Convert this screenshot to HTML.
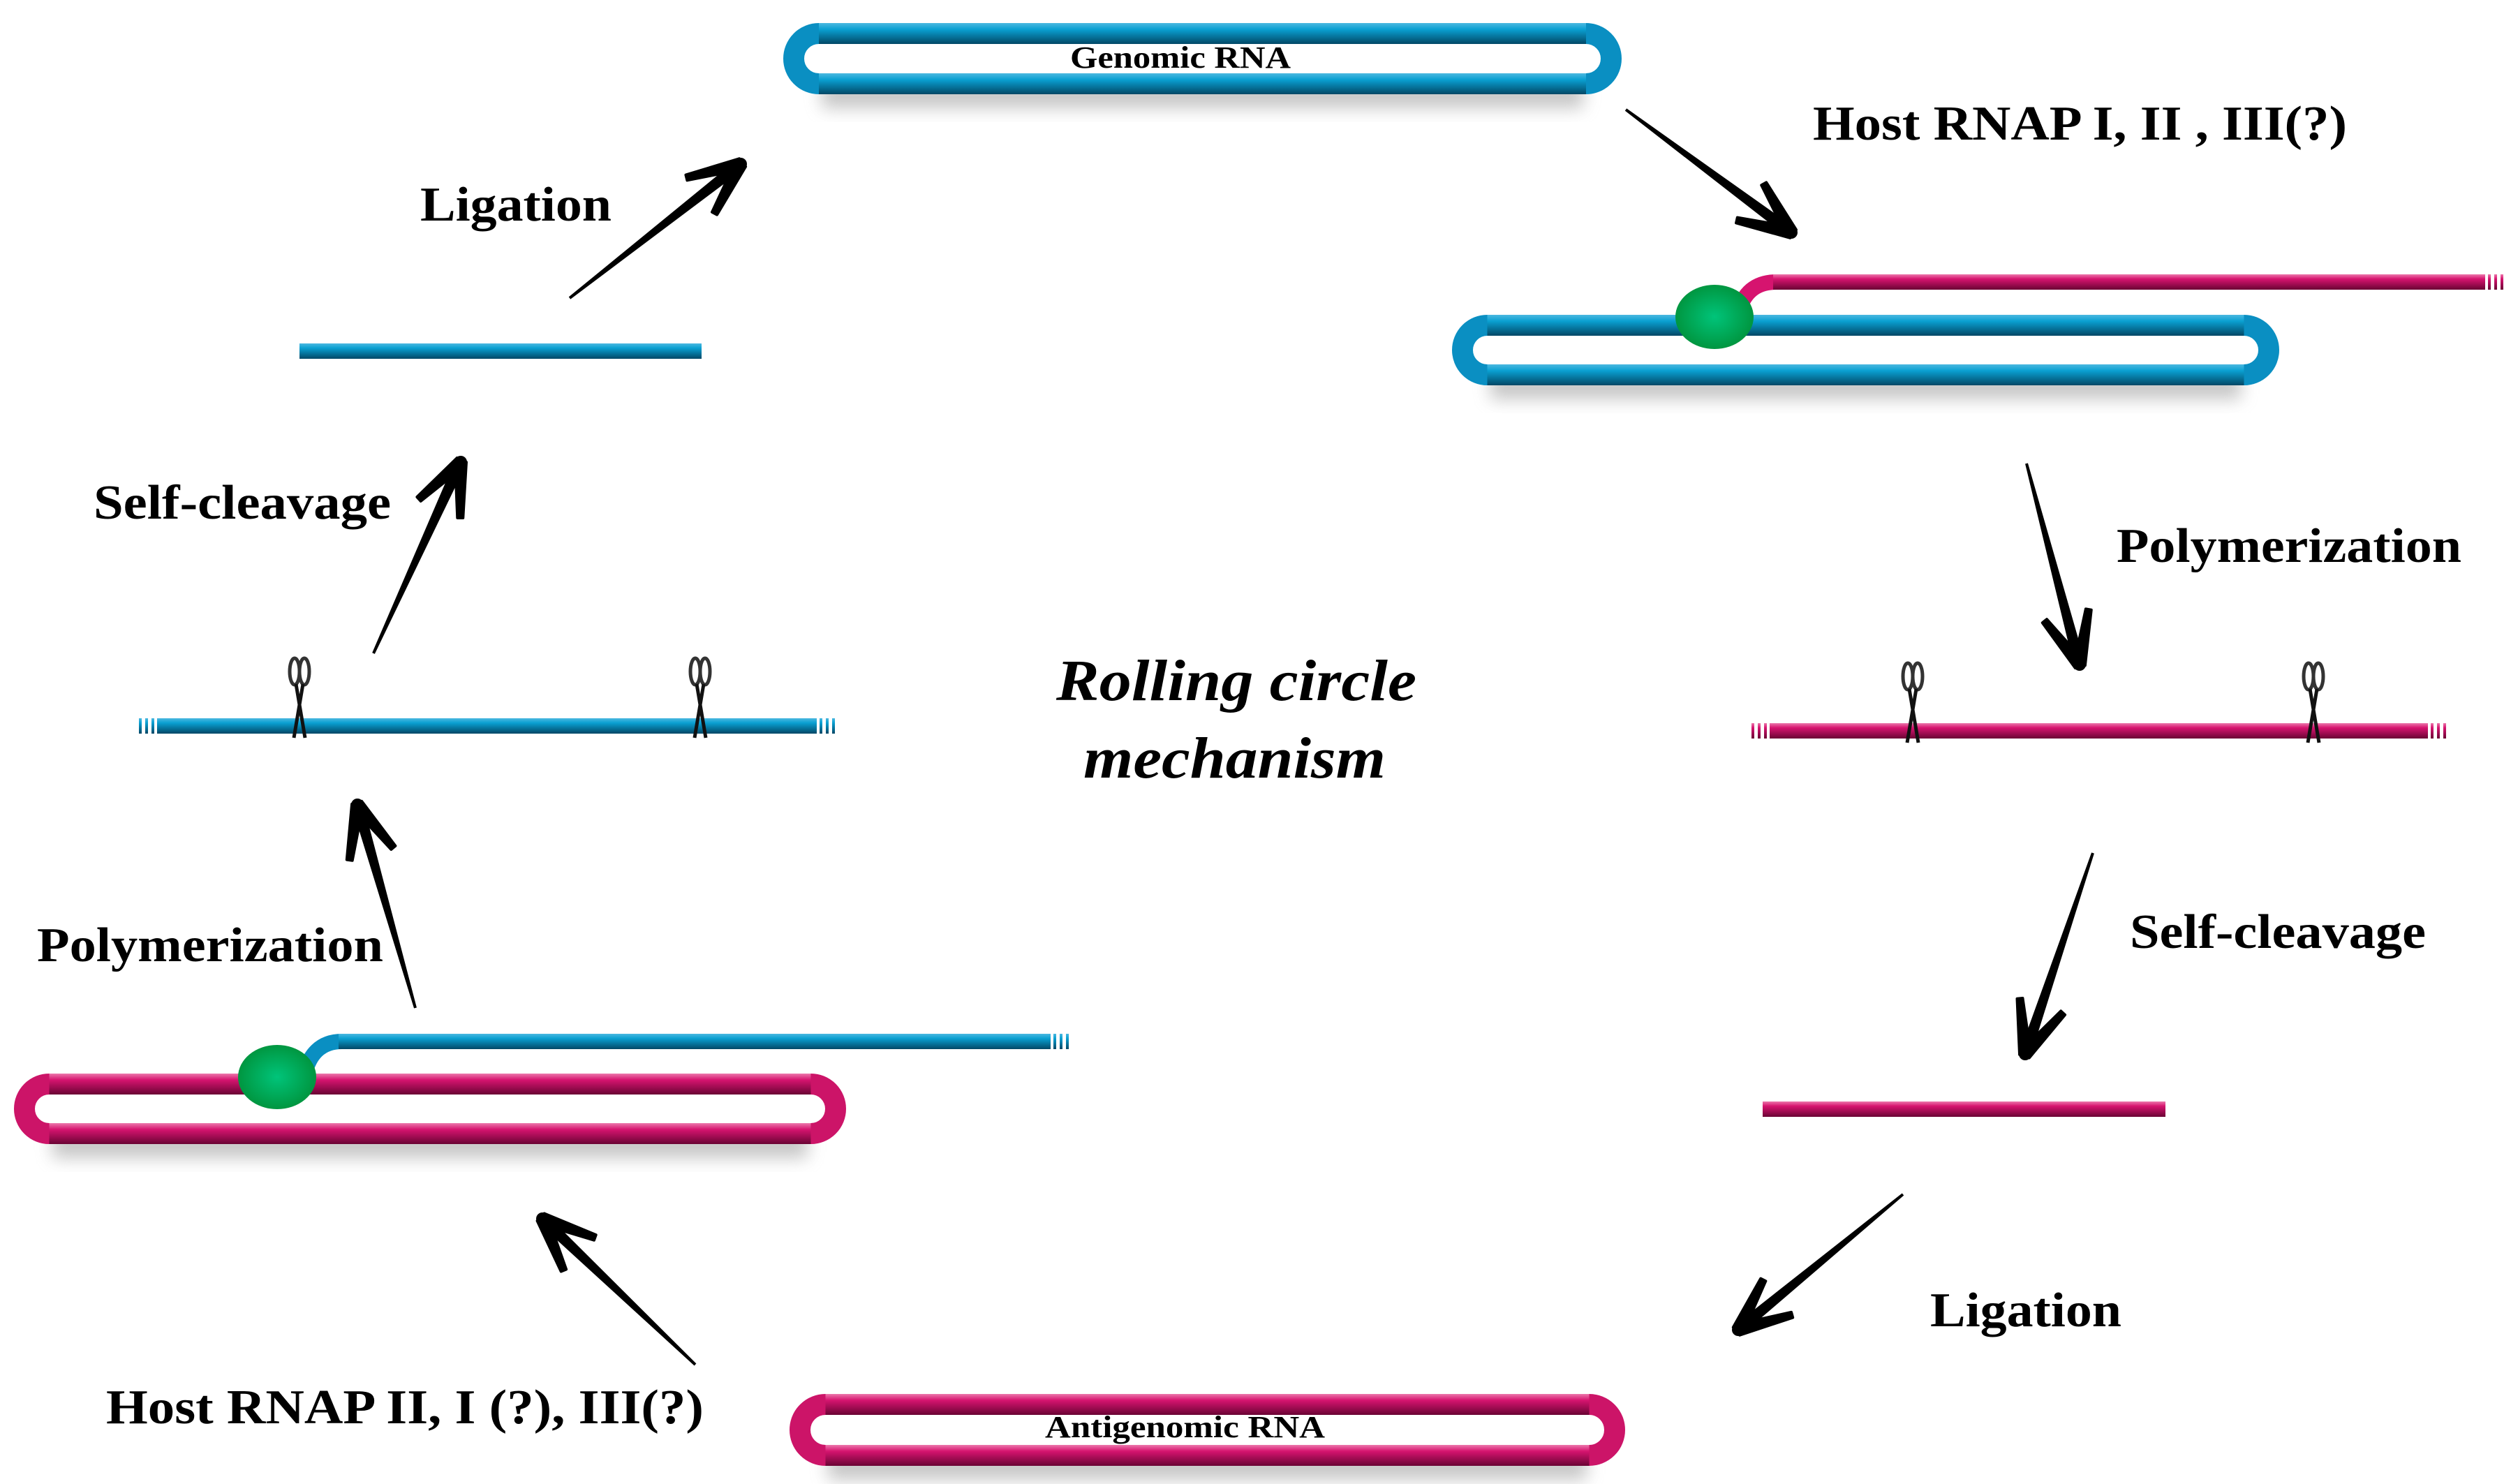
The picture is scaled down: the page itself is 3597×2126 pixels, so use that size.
<!DOCTYPE html>
<html><head><meta charset="utf-8"><style>
html,body{margin:0;padding:0;background:#fff}
svg{display:block}
text{font-family:"Liberation Serif",serif;font-weight:bold;fill:#000}
</style></head><body>
<svg id="s" xmlns="http://www.w3.org/2000/svg" width="3597" height="2126" viewBox="0 0 3597 2126">
<defs>
<linearGradient id="bl" x1="0" y1="0" x2="0" y2="1"><stop offset="0" stop-color="#4cb8e0"/><stop offset="0.3" stop-color="#0aa0d2"/><stop offset="1" stop-color="#024866"/></linearGradient>
<linearGradient id="pk" x1="0" y1="0" x2="0" y2="1"><stop offset="0" stop-color="#ec78ac"/><stop offset="0.3" stop-color="#d6146f"/><stop offset="1" stop-color="#6a0434"/></linearGradient>
<radialGradient id="gr"><stop offset="0" stop-color="#00c47a"/><stop offset="1" stop-color="#009640"/></radialGradient>
<filter id="sh" x="-10%" y="-50%" width="120%" height="200%"><feGaussianBlur stdDeviation="12"/></filter>
</defs>
<g id="g"></g>
<text x="1533" y="97" font-size="44" textLength="316" lengthAdjust="spacingAndGlyphs">Genomic RNA</text>
<text x="1497" y="2059" font-size="44" textLength="401" lengthAdjust="spacingAndGlyphs">Antigenomic RNA</text>
<text x="2597" y="200" font-size="70" textLength="765" lengthAdjust="spacingAndGlyphs">Host RNAP I, II , III(?)</text>
<text x="602" y="316" font-size="70" textLength="274" lengthAdjust="spacingAndGlyphs">Ligation</text>
<text x="134" y="743" font-size="70" textLength="426" lengthAdjust="spacingAndGlyphs">Self-cleavage</text>
<text x="3032" y="805" font-size="70" textLength="494" lengthAdjust="spacingAndGlyphs">Polymerization</text>
<text x="1513" y="1003" font-size="84" font-style="italic" textLength="516" lengthAdjust="spacingAndGlyphs">Rolling circle</text>
<text x="1552" y="1114" font-size="84" font-style="italic" textLength="433" lengthAdjust="spacingAndGlyphs">mechanism</text>
<text x="3051" y="1358" font-size="70" textLength="424" lengthAdjust="spacingAndGlyphs">Self-cleavage</text>
<text x="53" y="1377" font-size="70" textLength="496" lengthAdjust="spacingAndGlyphs">Polymerization</text>
<text x="2765" y="1900" font-size="70" textLength="274" lengthAdjust="spacingAndGlyphs">Ligation</text>
<text x="152" y="2039" font-size="70" textLength="856" lengthAdjust="spacingAndGlyphs">Host RNAP II, I (?), III(?)</text>
</svg>
<script>
var g=document.getElementById('g'),NS='http://www.w3.org/2000/svg';
function el(t,a){var e=document.createElementNS(NS,t);for(var k in a)e.setAttribute(k,a[k]);g.appendChild(e);return e;}
function ring(x1,y1,x2,y2,c){
 var h=y2-y1;
 el('rect',{x:x1+40,y:y2-5,width:x2-x1-80,height:40,fill:'#999',opacity:0.55,filter:'url(#sh)'});
 var p='M'+(x1+h/2)+','+y1+'H'+(x2-h/2)+'A'+h/2+','+h/2+' 0 0 1 '+(x2-h/2)+','+y2+'H'+(x1+h/2)+'A'+h/2+','+h/2+' 0 0 1 '+(x1+h/2)+','+y1+'Z';
 el('path',{d:p,fill:'#fff',stroke:c==='b'?'#0a8fc2':'#cc1468','stroke-width':30});
 el('rect',{x:x1+h/2,y:y1-15,width:x2-x1-h,height:30,fill:'url(#'+(c==='b'?'bl':'pk')+')'});
 el('rect',{x:x1+h/2,y:y2-15,width:x2-x1-h,height:30,fill:'url(#'+(c==='b'?'bl':'pk')+')'});
}
function strand(x1,x2,y,c,tl,tr){
 var f='url(#'+(c==='b'?'bl':'pk')+')';
 el('rect',{x:x1,y:y-11,width:x2-x1,height:22,fill:f});
 for(var i=1;i<=3;i++){
  if(tr)el('rect',{x:x2+i*9-5,y:y-11,width:4,height:22,fill:f});
  if(tl)el('rect',{x:x1-i*9+1,y:y-11,width:4,height:22,fill:f});
 }
}
function sc(x,y){
 el('ellipse',{cx:x-7,cy:y-78,rx:7,ry:19,fill:'none',stroke:'#333','stroke-width':5});
 el('ellipse',{cx:x+7,cy:y-78,rx:7,ry:19,fill:'none',stroke:'#333','stroke-width':5});
 el('path',{d:'M'+(x-5)+','+(y-60)+'L'+(x+8)+','+(y+17)+'M'+(x+5)+','+(y-60)+'L'+(x-8)+','+(y+17),stroke:'#111','stroke-width':5,fill:'none'});
}
function arrow(x1,y1,x2,y2){
 var dx=x2-x1,dy=y2-y1,L=Math.hypot(dx,dy),ux=dx/L,uy=dy/L,nx=-uy,ny=ux;
 var bx=x2-ux*20,by=y2-uy*20;
 el('polygon',{points:[x1+nx*2,y1+ny*2,bx+nx*8,by+ny*8,bx-nx*8,by-ny*8,x1-nx*2,y1-ny*2].join(','),fill:'#000'});
 var a=24*Math.PI/180,hl=80;
 [a,-a].forEach(function(t){
  var c=Math.cos(t),s=Math.sin(t);
  var vx=-(ux*c-uy*s),vy=-(ux*s+uy*c);
  var ex=x2+vx*hl,ey=y2+vy*hl,qx=-vy,qy=vx;
  el('polygon',{points:[x2+qx*8,y2+qy*8,ex+qx*4,ey+qy*4,ex-qx*4,ey-qy*4,x2-qx*8,y2-qy*8].join(','),fill:'#000','stroke-linejoin':'round',stroke:'#000','stroke-width':4});
 });
 el('circle',{cx:x2,cy:y2,r:9,fill:'#000'});
}
ring(1137,48,2308,120,'b');
ring(1146,2012,2313,2085,'p');
ring(2095,466,3250,537,'b');
ring(35,1553,1197,1624,'p');
el('path',{d:'M2490,450 Q2500,404 2545,404',stroke:'#d6146f','stroke-width':22,fill:'none'});
strand(2540,3560,404,'p',false,true);
el('ellipse',{cx:2456,cy:454,rx:56,ry:46,fill:'url(#gr)'});
el('path',{d:'M435,1545 Q445,1492 490,1492',stroke:'#0a8fc2','stroke-width':22,fill:'none'});
strand(485,1505,1492,'b',false,true);
el('ellipse',{cx:397,cy:1543,rx:56,ry:46,fill:'url(#gr)'});
strand(429,1005,503,'b',false,false);
strand(2525,3102,1589,'p',false,false);
strand(225,1170,1040,'b',true,true);sc(429,1040);sc(1003,1040);
strand(2535,3478,1047,'p',true,true);sc(2740,1047);sc(3314,1047);
arrow(816,427,1061,235);
arrow(2329,157,2566,333);
arrow(2903,664,2979,952);
arrow(2998,1222,2901,1510);
arrow(2726,1711,2490,1905);
arrow(996,1955,777,1746);
arrow(595,1444,512,1153);
arrow(535,936,660,662);
</script>
</body></html>
